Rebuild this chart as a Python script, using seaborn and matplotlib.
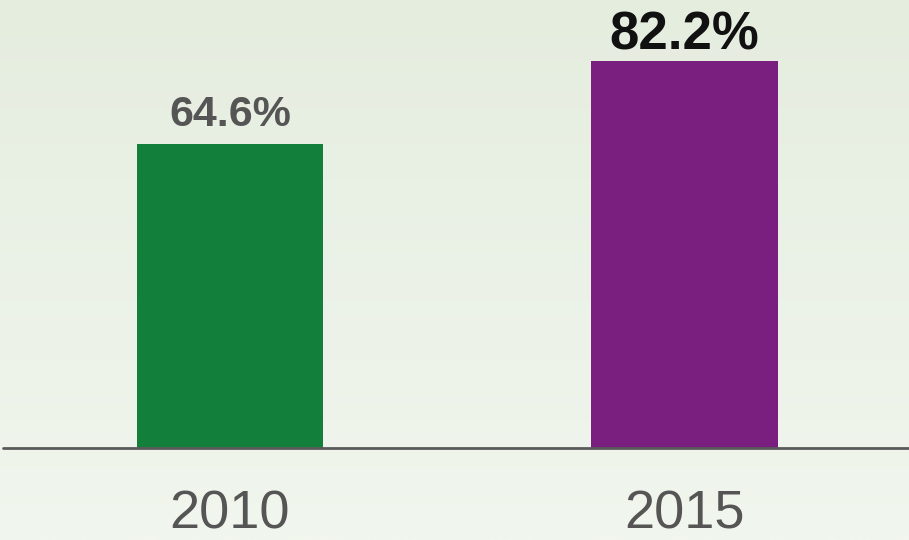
import numpy as np
import pandas as pd
import matplotlib
matplotlib.use("Agg")
import matplotlib.pyplot as plt
import seaborn as sns

years = ["2010", "2015"]
values = [64.6, 82.2]
bar_colors = ["#12803a", "#7a1f80"]
label_colors = ["#555555", "#111111"]
label_sizes = [31, 38]
label_offsets = [13, 8]

sns.set_theme(style="white")
plt.rcParams['font.family'] = ['Liberation Sans', 'DejaVu Sans']

W, H = 909, 540
fig = plt.figure(figsize=(W / 100, H / 100), dpi=100)

# background gradient
bg = fig.add_axes([0, 0, 1, 1], zorder=0)
top = np.array([229, 237, 223]) / 255
bot = np.array([241, 246, 238]) / 255
t = np.linspace(0, 1, 256)[:, None]
grad = (top * (1 - t) + bot * t)[:, None, :]
grad = np.repeat(grad, 2, axis=1)
bg.imshow(grad, aspect='auto', extent=[0, 1, 0, 1], origin='upper')
bg.set_axis_off()

ax = fig.add_axes([0, 92 / H, 1, 448 / H], zorder=1)
ax.patch.set_alpha(0)
df = pd.DataFrame({"year": years, "value": values})
sns.barplot(data=df, x="year", y="value", hue="year", palette=bar_colors,
            legend=False, width=0.41, ax=ax, saturation=1, linewidth=0)

ax.set_xlim(-0.506, 1.494)
ax.set_ylim(0, 95.1)
for s in ax.spines.values():
    s.set_visible(False)
ax.axhline(0, xmin=3 / W, xmax=1, color="#5a5a5a", lw=2, clip_on=False)
ax.set_yticks([])
ax.set_xlabel("")
ax.set_ylabel("")
ax.tick_params(axis='x', length=0, pad=30, labelsize=39, labelcolor="#555555")

for i, (v, c, s, o) in enumerate(zip(values, label_colors, label_sizes, label_offsets)):
    ax.annotate(f"{v}%", (i, v), xytext=(0, o), textcoords="offset points",
                ha="center", va="baseline", fontsize=s, fontweight="bold", color=c)

fig.savefig("out.png", dpi=100)
